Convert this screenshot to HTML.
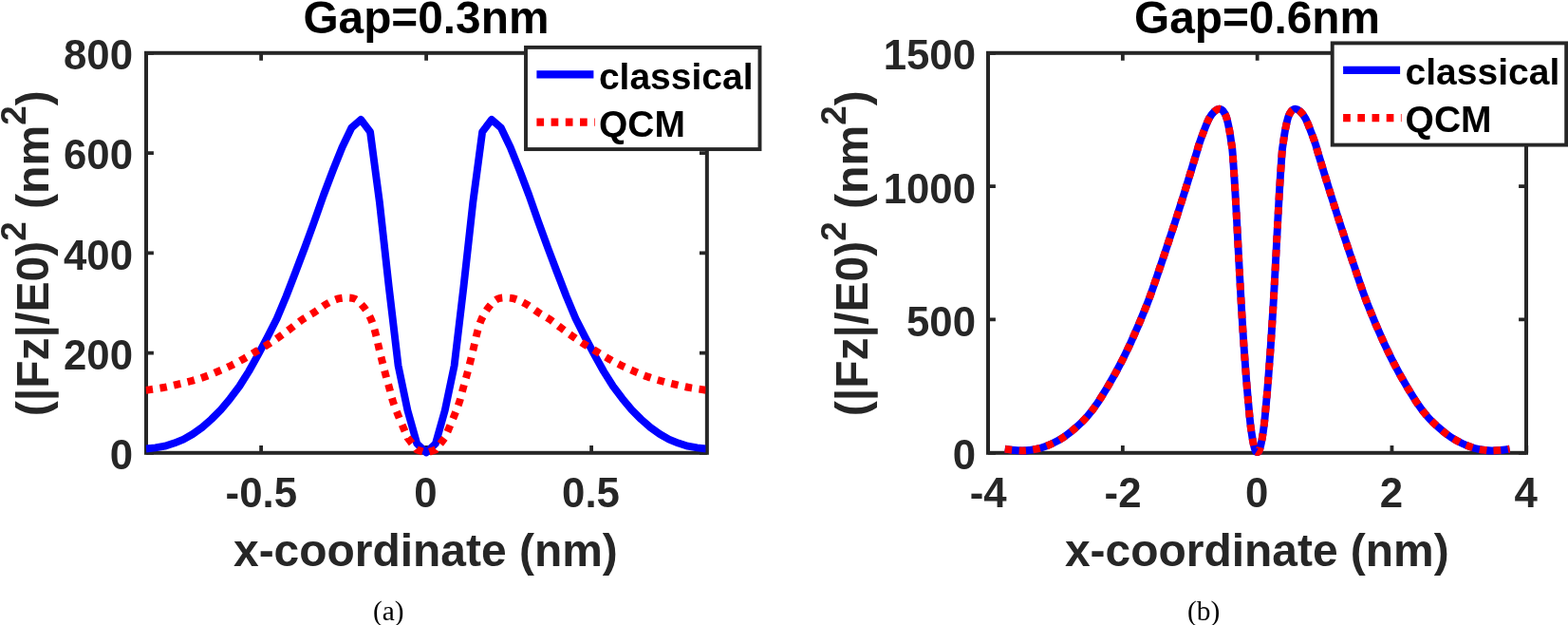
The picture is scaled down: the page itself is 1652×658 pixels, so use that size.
<!DOCTYPE html>
<html lang="en">
<head>
<meta charset="utf-8">
<title>Gap plots</title>
<style>
html,body{margin:0;padding:0;background:#fff;}
body{width:1652px;height:658px;overflow:hidden;}
svg{display:block;}
.sb{font-family:"Liberation Sans",Arial,Helvetica,sans-serif;font-weight:bold;}
.se{font-family:"Liberation Serif","Times New Roman",Times,serif;}
</style>
</head>
<body>
<svg width="1652" height="658" viewBox="0 0 1652 658">
<defs>
<clipPath id="cl"><rect x="153.6" y="40" width="589.8" height="441"/></clipPath>
<clipPath id="cr"><rect x="1041" y="40" width="567" height="441"/></clipPath>
</defs>
<rect width="1652" height="658" fill="#fff"/>
<g stroke="#262626" stroke-width="4" fill="none" stroke-linecap="butt">
<rect x="154" y="55.8" width="590.85" height="421"/>
<path d="M275.1 476.8v-7.9M275.1 55.8v7.9M449.1 476.8v-7.9M449.1 55.8v7.9M623.1 476.8v-7.9M623.1 55.8v7.9M154 476.8h7.9M744.85 476.8h-7.9M154 371.55h7.9M744.85 371.55h-7.9M154 266.3h7.9M744.85 266.3h-7.9M154 161.05h7.9M744.85 161.05h-7.9M154 55.8h7.9M744.85 55.8h-7.9" stroke-width="3.8"/>
</g>
<g stroke="#262626" stroke-width="4" fill="none" stroke-linecap="butt">
<rect x="1041" y="55.8" width="567" height="421"/>
<path d="M1041.05 476.8v-7.9M1041.05 55.8v7.9M1182.85 476.8v-7.9M1182.85 55.8v7.9M1324.65 476.8v-7.9M1324.65 55.8v7.9M1466.45 476.8v-7.9M1466.45 55.8v7.9M1608.25 476.8v-7.9M1608.25 55.8v7.9M1041 476.8h7.9M1608 476.8h-7.9M1041 336.47h7.9M1608 336.47h-7.9M1041 196.13h7.9M1608 196.13h-7.9M1041 55.8h7.9M1608 55.8h-7.9" stroke-width="3.8"/>
</g>
<g clip-path="url(#cl)" fill="none" stroke-linejoin="round" stroke-width="7.9">
<polyline stroke="#0000ff" points="153.9,472.5 163.74,471.4 173.58,469.7 183.42,466.6 193.26,462.6 203.1,457 212.94,450 222.78,441.4 232.62,431.5 242.46,419.7 252.3,406.7 262.14,391 271.98,373.3 281.82,354.9 291.66,335.5 301.5,312 311.34,286.5 321.18,260.5 331.02,233.5 340.86,205.5 350.7,179.5 360.54,155 370.38,134.5 380.22,125.9 390.06,138.9 399.9,213 409.74,302 419.58,385 429.42,432 439.26,467 449.1,476.3 458.94,467 468.78,432 478.62,385 488.46,302 498.3,213 508.14,138.9 517.98,125.9 527.82,134.5 537.66,155 547.5,179.5 557.34,205.5 567.18,233.5 577.02,260.5 586.86,286.5 596.7,312 606.54,335.5 616.38,354.9 626.22,373.3 636.06,391 645.9,406.7 655.74,419.7 665.58,431.5 675.42,441.4 685.26,450 695.1,457 704.94,462.6 714.78,466.6 724.62,469.7 734.46,471.4 744.3,472.5"/>
<path stroke="#ff0000" stroke-dasharray="7.47 7.47" stroke-dashoffset="-0.5" d="M153.2 410.9C154.1 410.77 155.32 410.6 158.6 410.1C161.88 409.6 168.1 408.82 172.9 407.9C177.7 406.98 182.57 405.75 187.4 404.6C192.23 403.45 197.1 402.35 201.9 401C206.7 399.65 211.5 398.18 216.2 396.5C220.9 394.82 225.52 392.87 230.1 390.9C234.68 388.93 239.23 386.9 243.7 384.7C248.17 382.5 252.55 380.15 256.9 377.7C261.25 375.25 265.52 372.55 269.8 370C274.08 367.45 278.38 365.07 282.6 362.4C286.82 359.73 291.02 356.87 295.1 354C299.18 351.13 303.08 348.18 307.1 345.2C311.12 342.22 315.13 338.87 319.2 336.1C323.27 333.33 327.32 331.3 331.5 328.6C335.68 325.9 339.9 322.3 344.3 319.9C348.7 317.5 353.1 315.12 357.9 314.2C362.7 313.28 368.85 312.83 373.1 314.4C377.35 315.97 380.42 319.95 383.4 323.6C386.38 327.25 388.97 331.78 391 336.3C393.03 340.82 394.27 345.87 395.6 350.7C396.93 355.53 397.85 360.45 399 365.3C400.15 370.15 401.3 374.98 402.5 379.8C403.7 384.62 404.92 389.42 406.2 394.2C407.48 398.98 408.88 403.72 410.2 408.5C411.52 413.28 412.57 418.15 414.1 422.9C415.63 427.65 417.55 432.33 419.4 437C421.25 441.67 423.53 446.92 425.2 450.9C426.87 454.88 428.72 459.23 429.42 460.9L439.26 473.5L449.1 476.8L458.94 473.5L468.78 460.9C469.48 459.23 471.33 454.88 473 450.9C474.67 446.92 476.95 441.67 478.8 437C480.65 432.33 482.57 427.65 484.1 422.9C485.63 418.15 486.68 413.28 488 408.5C489.32 403.72 490.72 398.98 492 394.2C493.28 389.42 494.5 384.62 495.7 379.8C496.9 374.98 498.05 370.15 499.2 365.3C500.35 360.45 501.27 355.53 502.6 350.7C503.93 345.87 505.17 340.82 507.2 336.3C509.23 331.78 511.82 327.25 514.8 323.6C517.78 319.95 520.85 315.97 525.1 314.4C529.35 312.83 535.5 313.28 540.3 314.2C545.1 315.12 549.5 317.5 553.9 319.9C558.3 322.3 562.52 325.9 566.7 328.6C570.88 331.3 574.93 333.33 579 336.1C583.07 338.87 587.08 342.22 591.1 345.2C595.12 348.18 599.02 351.13 603.1 354C607.18 356.87 611.38 359.73 615.6 362.4C619.82 365.07 624.12 367.45 628.4 370C632.68 372.55 636.95 375.25 641.3 377.7C645.65 380.15 650.03 382.5 654.5 384.7C658.97 386.9 663.52 388.93 668.1 390.9C672.68 392.87 677.3 394.82 682 396.5C686.7 398.18 691.5 399.65 696.3 401C701.1 402.35 705.97 403.45 710.8 404.6C715.63 405.75 720.5 406.98 725.3 407.9C730.1 408.82 736.32 409.6 739.6 410.1C742.88 410.6 744.1 410.77 745 410.9"/>
</g>
<g clip-path="url(#cr)" fill="none" stroke-linejoin="round" stroke-width="7.9">
<path stroke="#0000ff" d="M1058.75 472.6C1059.96 472.78 1062.97 473.38 1066 473.7C1069.03 474.02 1073.87 474.45 1076.9 474.5C1079.93 474.55 1080.97 474.47 1084.2 474C1087.43 473.53 1092.25 472.87 1096.3 471.7C1100.35 470.53 1104.43 468.92 1108.5 467C1112.57 465.08 1116.65 462.9 1120.7 460.2C1124.75 457.5 1128.75 454.33 1132.8 450.8C1136.85 447.27 1140.95 443.62 1145 439C1149.05 434.38 1152.09 430.73 1157.1 423.1C1162.11 415.47 1169.39 403.5 1175.05 393.2C1180.71 382.9 1185.46 373.5 1191.05 361.3C1196.64 349.1 1203.34 333.53 1208.6 320C1213.86 306.47 1218.03 293.43 1222.6 280.1C1227.17 266.77 1231.65 253.33 1236 240C1240.35 226.67 1244.62 213.18 1248.7 200.1C1252.78 187.02 1258.1 169.43 1260.5 161.5C1262.9 153.57 1261.85 156.27 1263.1 152.5C1264.35 148.73 1266.22 143.52 1268 138.9C1269.78 134.28 1271.86 128.42 1273.8 124.8C1275.74 121.18 1277.87 118.9 1279.65 117.2C1281.43 115.5 1283 114.67 1284.5 114.6C1286 114.53 1287.39 115.35 1288.65 116.8C1289.91 118.25 1290.97 120.02 1292.05 123.3C1293.13 126.58 1294.28 132.05 1295.15 136.5C1296.02 140.95 1296.67 145.92 1297.25 150C1297.83 154.08 1297.98 152.67 1298.65 161C1299.32 169.33 1300.45 186.83 1301.25 200C1302.05 213.17 1302.73 226.67 1303.45 240C1304.17 253.33 1304.83 266.67 1305.55 280C1306.27 293.33 1306.97 306.67 1307.75 320C1308.53 333.33 1309.35 346.67 1310.25 360C1311.15 373.33 1312.08 386.65 1313.15 400C1314.23 413.35 1315.78 430.78 1316.7 440.1C1317.62 449.42 1317.99 451.33 1318.65 455.9C1319.31 460.47 1319.98 464.4 1320.65 467.5C1321.32 470.6 1321.98 473.08 1322.65 474.5C1323.32 475.92 1323.98 476 1324.65 476C1325.32 476 1325.98 475.92 1326.65 474.5C1327.32 473.08 1327.98 470.6 1328.65 467.5C1329.32 464.4 1329.99 460.47 1330.65 455.9C1331.31 451.33 1331.68 449.42 1332.6 440.1C1333.52 430.78 1335.08 413.35 1336.15 400C1337.23 386.65 1338.15 373.33 1339.05 360C1339.95 346.67 1340.77 333.33 1341.55 320C1342.33 306.67 1343.03 293.33 1343.75 280C1344.47 266.67 1345.13 253.33 1345.85 240C1346.57 226.67 1347.25 213.17 1348.05 200C1348.85 186.83 1349.98 169.33 1350.65 161C1351.32 152.67 1351.47 154.08 1352.05 150C1352.63 145.92 1353.28 140.95 1354.15 136.5C1355.02 132.05 1356.17 126.58 1357.25 123.3C1358.33 120.02 1359.39 118.25 1360.65 116.8C1361.91 115.35 1363.3 114.53 1364.8 114.6C1366.3 114.67 1367.87 115.5 1369.65 117.2C1371.43 118.9 1373.56 121.18 1375.5 124.8C1377.44 128.42 1379.52 134.28 1381.3 138.9C1383.08 143.52 1384.95 148.73 1386.2 152.5C1387.45 156.27 1386.4 153.57 1388.8 161.5C1391.2 169.43 1396.52 187.02 1400.6 200.1C1404.68 213.18 1408.95 226.67 1413.3 240C1417.65 253.33 1422.13 266.77 1426.7 280.1C1431.27 293.43 1435.44 306.47 1440.7 320C1445.96 333.53 1452.66 349.1 1458.25 361.3C1463.84 373.5 1468.59 382.9 1474.25 393.2C1479.91 403.5 1487.19 415.47 1492.2 423.1C1497.21 430.73 1500.25 434.38 1504.3 439C1508.35 443.62 1512.45 447.27 1516.5 450.8C1520.55 454.33 1524.55 457.5 1528.6 460.2C1532.65 462.9 1536.73 465.08 1540.8 467C1544.87 468.92 1548.95 470.53 1553 471.7C1557.05 472.87 1561.87 473.53 1565.1 474C1568.33 474.47 1569.37 474.55 1572.4 474.5C1575.43 474.45 1580.28 474.02 1583.3 473.7C1586.33 473.38 1589.34 472.78 1590.55 472.6"/>
<path stroke="#ff0000" stroke-dasharray="7.46 7.46" d="M1058.75 472.6C1059.96 472.78 1062.97 473.38 1066 473.7C1069.03 474.02 1073.87 474.45 1076.9 474.5C1079.93 474.55 1080.97 474.47 1084.2 474C1087.43 473.53 1092.25 472.87 1096.3 471.7C1100.35 470.53 1104.43 468.92 1108.5 467C1112.57 465.08 1116.65 462.9 1120.7 460.2C1124.75 457.5 1128.75 454.33 1132.8 450.8C1136.85 447.27 1140.95 443.62 1145 439C1149.05 434.38 1152.09 430.73 1157.1 423.1C1162.11 415.47 1169.39 403.5 1175.05 393.2C1180.71 382.9 1185.46 373.5 1191.05 361.3C1196.64 349.1 1203.34 333.53 1208.6 320C1213.86 306.47 1218.03 293.43 1222.6 280.1C1227.17 266.77 1231.65 253.33 1236 240C1240.35 226.67 1244.62 213.18 1248.7 200.1C1252.78 187.02 1258.1 169.43 1260.5 161.5C1262.9 153.57 1261.85 156.27 1263.1 152.5C1264.35 148.73 1266.22 143.52 1268 138.9C1269.78 134.28 1271.86 128.42 1273.8 124.8C1275.74 121.18 1277.87 118.9 1279.65 117.2C1281.43 115.5 1283 114.67 1284.5 114.6C1286 114.53 1287.39 115.35 1288.65 116.8C1289.91 118.25 1290.97 120.02 1292.05 123.3C1293.13 126.58 1294.28 132.05 1295.15 136.5C1296.02 140.95 1296.67 145.92 1297.25 150C1297.83 154.08 1297.98 152.67 1298.65 161C1299.32 169.33 1300.45 186.83 1301.25 200C1302.05 213.17 1302.73 226.67 1303.45 240C1304.17 253.33 1304.83 266.67 1305.55 280C1306.27 293.33 1306.97 306.67 1307.75 320C1308.53 333.33 1309.35 346.67 1310.25 360C1311.15 373.33 1312.08 386.65 1313.15 400C1314.23 413.35 1315.78 430.78 1316.7 440.1C1317.62 449.42 1317.99 451.33 1318.65 455.9C1319.31 460.47 1319.98 464.4 1320.65 467.5C1321.32 470.6 1321.98 473.08 1322.65 474.5C1323.32 475.92 1323.98 476 1324.65 476C1325.32 476 1325.98 475.92 1326.65 474.5C1327.32 473.08 1327.98 470.6 1328.65 467.5C1329.32 464.4 1329.99 460.47 1330.65 455.9C1331.31 451.33 1331.68 449.42 1332.6 440.1C1333.52 430.78 1335.08 413.35 1336.15 400C1337.23 386.65 1338.15 373.33 1339.05 360C1339.95 346.67 1340.77 333.33 1341.55 320C1342.33 306.67 1343.03 293.33 1343.75 280C1344.47 266.67 1345.13 253.33 1345.85 240C1346.57 226.67 1347.25 213.17 1348.05 200C1348.85 186.83 1349.98 169.33 1350.65 161C1351.32 152.67 1351.47 154.08 1352.05 150C1352.63 145.92 1353.28 140.95 1354.15 136.5C1355.02 132.05 1356.17 126.58 1357.25 123.3C1358.33 120.02 1359.39 118.25 1360.65 116.8C1361.91 115.35 1363.3 114.53 1364.8 114.6C1366.3 114.67 1367.87 115.5 1369.65 117.2C1371.43 118.9 1373.56 121.18 1375.5 124.8C1377.44 128.42 1379.52 134.28 1381.3 138.9C1383.08 143.52 1384.95 148.73 1386.2 152.5C1387.45 156.27 1386.4 153.57 1388.8 161.5C1391.2 169.43 1396.52 187.02 1400.6 200.1C1404.68 213.18 1408.95 226.67 1413.3 240C1417.65 253.33 1422.13 266.77 1426.7 280.1C1431.27 293.43 1435.44 306.47 1440.7 320C1445.96 333.53 1452.66 349.1 1458.25 361.3C1463.84 373.5 1468.59 382.9 1474.25 393.2C1479.91 403.5 1487.19 415.47 1492.2 423.1C1497.21 430.73 1500.25 434.38 1504.3 439C1508.35 443.62 1512.45 447.27 1516.5 450.8C1520.55 454.33 1524.55 457.5 1528.6 460.2C1532.65 462.9 1536.73 465.08 1540.8 467C1544.87 468.92 1548.95 470.53 1553 471.7C1557.05 472.87 1561.87 473.53 1565.1 474C1568.33 474.47 1569.37 474.55 1572.4 474.5C1575.43 474.45 1580.28 474.02 1583.3 473.7C1586.33 473.38 1589.34 472.78 1590.55 472.6"/>
</g>
<g class="sb" font-size="43.75" fill="#262626">
<text x="140" y="494.2" text-anchor="end">0</text>
<text x="140" y="388.95" text-anchor="end">200</text>
<text x="140" y="283.7" text-anchor="end">400</text>
<text x="140" y="178.45" text-anchor="end">600</text>
<text x="140" y="73.2" text-anchor="end">800</text>
<text x="1028" y="494.2" text-anchor="end">0</text>
<text x="1028" y="353.87" text-anchor="end">500</text>
<text x="1028" y="213.53" text-anchor="end">1000</text>
<text x="1028" y="73.2" text-anchor="end">1500</text>
<text x="275.3" y="534.2" text-anchor="middle">-0.5</text>
<text x="448.5" y="534.2" text-anchor="middle">0</text>
<text x="622.5" y="534.2" text-anchor="middle">0.5</text>
<text x="1041.25" y="534.2" text-anchor="middle">-4</text>
<text x="1183.05" y="534.2" text-anchor="middle">-2</text>
<text x="1324.05" y="534.2" text-anchor="middle">0</text>
<text x="1465.85" y="534.2" text-anchor="middle">2</text>
<text x="1607.65" y="534.2" text-anchor="middle">4</text>
</g>
<g class="sb" font-size="48.1" fill="#262626">
<text x="448.4" y="595.8" text-anchor="middle" font-size="47.95">x-coordinate (nm)</text>
<text x="1324.3" y="595.8" text-anchor="middle" font-size="47.95">x-coordinate (nm)</text>
<text transform="translate(51 438.3) rotate(-90)" x="0" y="0">(|Fz|/E0)<tspan font-size="36.8" dy="-23.7">2</tspan><tspan dy="23.7"> (nm</tspan><tspan font-size="36.8" dy="-23.7">2</tspan><tspan dy="23.7">)</tspan></text>
<text transform="translate(914.4 438.3) rotate(-90)" x="0" y="0">(|Fz|/E0)<tspan font-size="36.8" dy="-23.7">2</tspan><tspan dy="23.7"> (nm</tspan><tspan font-size="36.8" dy="-23.7">2</tspan><tspan dy="23.7">)</tspan></text>
</g>
<g class="sb" font-size="47.8" fill="#000">
<text x="448.9" y="34.6" text-anchor="middle">Gap=0.3nm</text>
<text x="1324.5" y="34.6" text-anchor="middle">Gap=0.6nm</text>
</g>
<g>
<rect x="554" y="49.9" width="246.5" height="107.2" fill="#fff" stroke="#262626" stroke-width="3.9"/>
<path d="M565.4 78.35h60" stroke="#0000ff" stroke-width="8.3" fill="none"/>
<path d="M565.4 128.6h61.5" stroke="#ff0000" stroke-width="8.3" stroke-dasharray="7.7 7.5" fill="none"/>
<text class="sb" font-size="39.0" fill="#000" x="630.9" y="93.6">classical</text>
<text class="sb" font-size="39.0" fill="#000" x="630.9" y="143.9">QCM</text>
</g>
<g>
<rect x="1403.7" y="45.4" width="246.5" height="107.2" fill="#fff" stroke="#262626" stroke-width="3.9"/>
<path d="M1415.1 73.85h60" stroke="#0000ff" stroke-width="8.3" fill="none"/>
<path d="M1415.1 124.1h61.5" stroke="#ff0000" stroke-width="8.3" stroke-dasharray="7.7 7.5" fill="none"/>
<text class="sb" font-size="39.0" fill="#000" x="1480.6" y="89.1">classical</text>
<text class="sb" font-size="39.0" fill="#000" x="1480.6" y="139.4">QCM</text>
</g>
<g class="se" font-size="29.4" fill="#000">
<text x="409.2" y="653.2" text-anchor="middle">(a)</text>
<text x="1268.1" y="653.2" text-anchor="middle">(b)</text>
</g>
</svg>
</body>
</html>
